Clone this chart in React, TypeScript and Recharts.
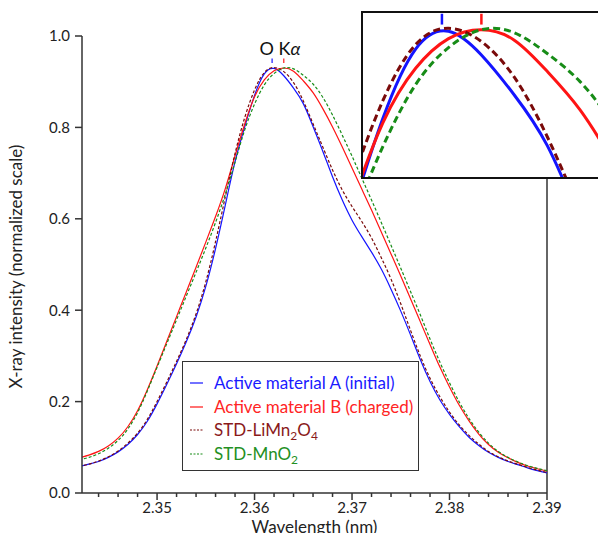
import React from 'react';
import { LineChart, Line, XAxis, YAxis, ReferenceLine, Legend } from 'recharts';

// wavelength grid (nm)
const wavelengths = [
  2.342, 2.343, 2.344, 2.345, 2.346, 2.347, 2.348, 2.349, 2.35, 2.351,
  2.352, 2.353, 2.354, 2.355, 2.356, 2.357, 2.358, 2.359, 2.36, 2.361,
  2.362, 2.363, 2.364, 2.365, 2.366, 2.367, 2.368, 2.369, 2.37, 2.371,
  2.372, 2.373, 2.374, 2.375, 2.376, 2.377, 2.378, 2.379, 2.38, 2.381,
  2.382, 2.383, 2.384, 2.385, 2.386, 2.387, 2.388, 2.389, 2.39,
];

const activeA = [
  0.058, 0.063, 0.069, 0.078, 0.09, 0.106, 0.128, 0.157, 0.195, 0.238,
  0.283, 0.331, 0.385, 0.452, 0.535, 0.63, 0.725, 0.802, 0.87, 0.917,
  0.929, 0.913, 0.886, 0.852, 0.802, 0.748, 0.692, 0.641, 0.597, 0.561,
  0.527, 0.49, 0.446, 0.398, 0.346, 0.292, 0.244, 0.204, 0.172, 0.145,
  0.122, 0.104, 0.089, 0.078, 0.069, 0.062, 0.055, 0.049, 0.044,
];

const activeB = [
  0.077, 0.083, 0.091, 0.103, 0.12, 0.145, 0.18, 0.226, 0.278, 0.332,
  0.386, 0.44, 0.494, 0.549, 0.605, 0.666, 0.738, 0.808, 0.867, 0.904,
  0.924, 0.93, 0.923, 0.902, 0.876, 0.841, 0.801, 0.757, 0.711, 0.665,
  0.619, 0.571, 0.523, 0.475, 0.425, 0.375, 0.325, 0.276, 0.232, 0.192,
  0.158, 0.129, 0.106, 0.089, 0.077, 0.067, 0.059, 0.053, 0.048,
];

const stdLiMn2O4 = [
  0.058, 0.063, 0.07, 0.079, 0.092, 0.109, 0.131, 0.161, 0.2, 0.243,
  0.288, 0.336, 0.392, 0.462, 0.55, 0.648, 0.743, 0.822, 0.882, 0.92,
  0.931, 0.922, 0.898, 0.858, 0.808, 0.757, 0.707, 0.663, 0.627, 0.594,
  0.558, 0.515, 0.468, 0.414, 0.356, 0.3, 0.251, 0.211, 0.177, 0.149,
  0.126, 0.107, 0.091, 0.079, 0.07, 0.063, 0.056, 0.05, 0.045,
];

const stdMnO2 = [
  0.072, 0.078, 0.086, 0.098, 0.115, 0.14, 0.176, 0.223, 0.275, 0.327,
  0.379, 0.431, 0.483, 0.536, 0.592, 0.654, 0.724, 0.795, 0.851, 0.893,
  0.918, 0.93, 0.928, 0.914, 0.895, 0.866, 0.827, 0.783, 0.737, 0.689,
  0.641, 0.592, 0.542, 0.492, 0.441, 0.39, 0.337, 0.287, 0.241, 0.199,
  0.163, 0.133, 0.109, 0.091, 0.078, 0.068, 0.06, 0.054, 0.049,
];

const seriesNames = ['Active material A (initial)', 'Active material B (charged)', 'STD-LiMn2O4', 'STD-MnO2'];
const xTicks = [
  2.344, 2.346, 2.348, 2.35, 2.352, 2.354, 2.356, 2.358, 2.36, 2.362, 2.364, 2.366,
  2.368, 2.37, 2.372, 2.374, 2.376, 2.378, 2.38, 2.382, 2.384, 2.386, 2.388, 2.39,
];
const yTicks = [0, 0.2, 0.4, 0.6, 0.8, 1.0];
const peakA = 2.3618;
const peakB = 2.363;

const series = [
  { key: 'a', name: seriesNames[0], color: '#1414ff', text: '#1a1aff', dash: false },
  { key: 'b', name: seriesNames[1], color: '#ff1414', text: '#ff2424', dash: false },
  { key: 'li', name: seriesNames[2], color: '#7a0a0a', text: '#8a1a1a', dash: true },
  { key: 'mn', name: seriesNames[3], color: '#178c17', text: '#239023', dash: true },
];

const data = wavelengths.map((w, i) => ({
  w,
  a: activeA[i],
  b: activeB[i],
  li: stdLiMn2O4[i],
  mn: stdMnO2[i],
}));

const FONT = 'Lato, "Open Sans", sans-serif';
const AXIS = '#333';

// digits become subscripts (LiMn2O4 -> LiMn₂O₄)
const withSubs = (s: string) =>
  s.split(/(\d)/).map((p, i) =>
    /\d/.test(p) ? (
      <sub key={i} style={{ fontSize: 12, verticalAlign: -4, lineHeight: 0 }}>{p}</sub>
    ) : (
      <span key={i}>{p}</span>
    )
  );

const XTick = (props: any) => {
  const { x, y, payload } = props;
  const v = payload.value;
  const major = Math.abs(v * 100 - Math.round(v * 100)) < 1e-6;
  return (
    <g>
      <line x1={x} x2={x} y1={y} y2={y + (major ? 7 : 4)} stroke={AXIS} strokeWidth={1.5} />
      {major && (
        <text x={x} y={y + 20} textAnchor="middle" fontSize={15} fill="#222">
          {v.toFixed(2)}
        </text>
      )}
    </g>
  );
};

const YTitle = (props: any) => {
  const { x, y, height } = props.viewBox;
  const cx = x + 18;
  const cy = y + height / 2 + 2;
  return (
    <text x={cx} y={cy} transform={`rotate(-90 ${cx} ${cy})`} textAnchor="middle" dominantBaseline="middle" fontSize={17} fill="#222">
      X-ray intensity (normalized scale)
    </text>
  );
};

const LegendBox = () => (
  <div
    style={{
      width: 237,
      height: 110,
      boxSizing: 'border-box',
      border: '1.5px solid #333',
      background: '#fff',
      padding: '9px 0 0 7px',
      fontFamily: FONT,
      fontSize: 17,
    }}
  >
    {series.map((s) => (
      <div key={s.key} style={{ display: 'flex', alignItems: 'center', height: 23.7, color: s.text }}>
        <svg width={14} height={10} style={{ marginRight: 10, flex: 'none' }}>
          <line x1={0} x2={13} y1={5} y2={5} stroke={s.color} strokeWidth={1.2} strokeDasharray={s.dash ? '2 1.5' : undefined} />
        </svg>
        <span style={{ whiteSpace: 'nowrap', lineHeight: '20px' }}>{withSubs(s.name)}</span>
      </div>
    ))}
  </div>
);

export default function App() {
  return (
    <div style={{ position: 'absolute', left: 0, top: 0, width: 598, height: 533, overflow: 'hidden', fontFamily: FONT, background: '#fff' }}>
      <LineChart width={598} height={533} data={data} margin={{ top: 36, right: 51, bottom: 0, left: 0 }}>
        <XAxis
          type="number"
          dataKey="w"
          domain={[2.3423, 2.39]}
          allowDataOverflow
          ticks={xTicks}
          interval={0}
          tick={<XTick />}
          tickLine={false}
          tickSize={0}
          tickMargin={0}
          height={40}
          stroke={AXIS}
          strokeWidth={1.5}
          label={{ value: 'Wavelength (nm)', position: 'insideBottom', offset: 0, fontSize: 17, fill: '#222' }}
        />
        <YAxis
          type="number"
          domain={[0, 1]}
          ticks={yTicks}
          interval={0}
          width={82}
          tickSize={7}
          tickMargin={5}
          tickFormatter={(v: number) => v.toFixed(1)}
          tick={{ fontSize: 15, fill: '#222' }}
          stroke={AXIS}
          strokeWidth={1.5}
          label={{ content: YTitle }}
        />
        <ReferenceLine x={2.39} stroke={AXIS} strokeWidth={1.5} />
        <ReferenceLine segment={[{ x: peakA, y: 0.941 }, { x: peakA, y: 0.951 }]} stroke="#1414ff" strokeWidth={1.2} />
        <ReferenceLine segment={[{ x: peakB, y: 0.941 }, { x: peakB, y: 0.951 }]} stroke="#ff1414" strokeWidth={1.2} />
        {series.map((s) => (
          <Line
            key={s.key}
            type="natural"
            dataKey={s.key}
            name={s.name}
            stroke={s.color}
            strokeWidth={1.2}
            strokeDasharray={s.dash ? '3 2' : undefined}
            dot={false}
            isAnimationActive={false}
          />
        ))}
        <Legend
          layout="vertical"
          align="center"
          verticalAlign="middle"
          content={<LegendBox />}
          wrapperStyle={{ left: 182, top: 361, width: 237 }}
        />
      </LineChart>

      <div style={{ position: 'absolute', left: 250, top: 37, width: 60, textAlign: 'center', fontSize: 18, color: '#111' }}>
        O K<i>α</i>
      </div>

      <div
        style={{
          position: 'absolute',
          left: 361,
          top: 11,
          width: 250,
          height: 168,
          boxSizing: 'border-box',
          border: '2px solid #111',
          background: '#fff',
        }}
      >
        <LineChart width={246} height={164} data={data} margin={{ top: 0, right: 0, bottom: 0, left: 0 }}>
          <XAxis type="number" dataKey="w" domain={[2.3594, 2.36688]} allowDataOverflow hide />
          <YAxis type="number" domain={[0.8307, 0.9413]} allowDataOverflow hide />
          {series.map((s) => (
            <Line
              key={s.key}
              type="natural"
              dataKey={s.key}
              stroke={s.color}
              strokeWidth={3}
              strokeDasharray={s.dash ? '7 4' : undefined}
              dot={false}
              isAnimationActive={false}
            />
          ))}
          <ReferenceLine segment={[{ x: peakA, y: 0.9335 }, { x: peakA, y: 0.9408 }]} stroke="#1414ff" strokeWidth={2.5} />
          <ReferenceLine segment={[{ x: peakB, y: 0.9335 }, { x: peakB, y: 0.9408 }]} stroke="#ff1414" strokeWidth={2.5} />
        </LineChart>
      </div>
    </div>
  );
}
